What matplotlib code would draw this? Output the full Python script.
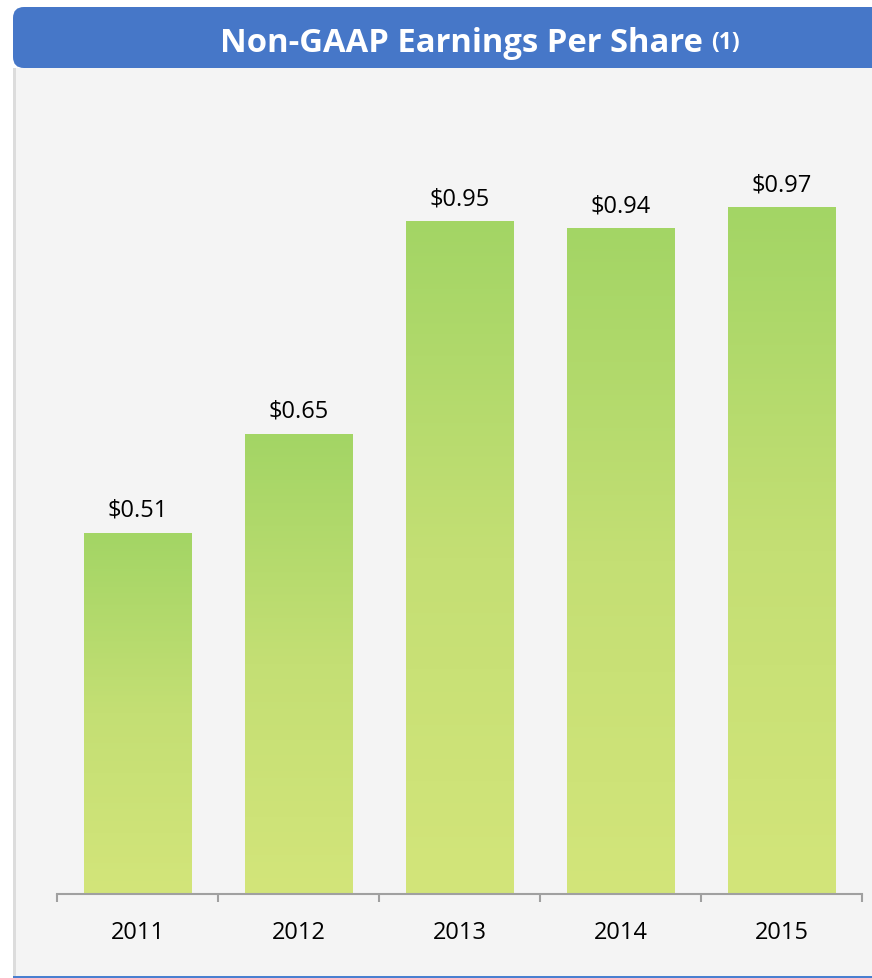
import numpy as np
import matplotlib.pyplot as plt
from matplotlib.patches import FancyBboxPatch, Rectangle
from matplotlib.colors import LinearSegmentedColormap

# Data
years = ['2011', '2012', '2013', '2014', '2015']
eps = [0.51, 0.65, 0.95, 0.94, 0.97]
labels = ['$0.51', '$0.65', '$0.95', '$0.94', '$0.97']
title = 'Non-GAAP Earnings Per Share'

plt.rcParams['font.family'] = ['Open Sans', 'DejaVu Sans']

W, H = 872, 979
fig = plt.figure(figsize=(W / 100, H / 100), dpi=100)
fig.patch.set_facecolor('white')

# panel background and borders
fig.patches.append(Rectangle((15 / W, 2 / H), (W - 15) / W, (H - 71) / H,
                             transform=fig.transFigure, facecolor='#F4F4F4',
                             edgecolor='none', zorder=-3))
fig.patches.append(Rectangle((13 / W, 2 / H), 2.5 / W, (H - 71) / H,
                             transform=fig.transFigure, facecolor='#DCDCDC',
                             edgecolor='none', zorder=-2))
fig.patches.append(Rectangle((13 / W, 0), (W - 13) / W, 2.5 / H,
                             transform=fig.transFigure, facecolor='#4A7FD0',
                             edgecolor='none', zorder=-2))

# title bar (rounded on the left, runs off the right edge)
fig.patches.append(FancyBboxPatch((13, H - 69), 960, 61,
                                  boxstyle='round,pad=0,rounding_size=11',
                                  transform=None, facecolor='#4677C8',
                                  edgecolor='none', zorder=2))
fig.text(703 / W, (H - 43) / H, title, color='white', fontsize=23.6,
         fontweight='bold', ha='right', va='center', zorder=3)
fig.text(711 / W, (H - 43) / H, '(1)', color='white', fontsize=16.5,
         fontweight='bold', ha='left', va='center', zorder=3)

ax = fig.add_axes([57 / W, 84 / H, (862 - 57) / W, (895 - 100) / H])
ax.set_facecolor('none')

cmap = LinearSegmentedColormap.from_list('bar', ['#D3E57A', '#C4DF74', '#A3D565'])
grad = np.linspace(0, 1, 256).reshape(-1, 1)
width = 0.67
x = np.arange(len(years))
bars = ax.bar(x, eps, width=width, color='none', edgecolor='none')
for b, lab in zip(bars, labels):
    x0, h = b.get_x(), b.get_height()
    im = ax.imshow(grad, cmap=cmap, origin='lower', aspect='auto',
                   extent=[x0, x0 + width, 0, h], zorder=2)
    im.set_clip_path(b)
    ax.annotate(lab, (x0 + width / 2, h), xytext=(0, 8), textcoords='offset points',
                ha='center', va='bottom', fontsize=17, color='black')

ax.set_xlim(-0.5, 4.5)
ax.set_ylim(0, 795 / 708)

for s in ['top', 'right', 'left']:
    ax.spines[s].set_visible(False)
ax.spines['bottom'].set_color('#A0A0A0')
ax.spines['bottom'].set_linewidth(1.5)
ax.set_yticks([])
ax.set_xticks(np.arange(-0.5, 5, 1))
ax.set_xticklabels([])
ax.tick_params(axis='x', length=6, width=1.5, color='#A0A0A0')
ax.set_xticks(x, minor=True)
ax.set_xticklabels(years, minor=True, fontsize=17)
ax.tick_params(axis='x', which='minor', length=0, pad=19)

fig.savefig('out.png', dpi=100)
